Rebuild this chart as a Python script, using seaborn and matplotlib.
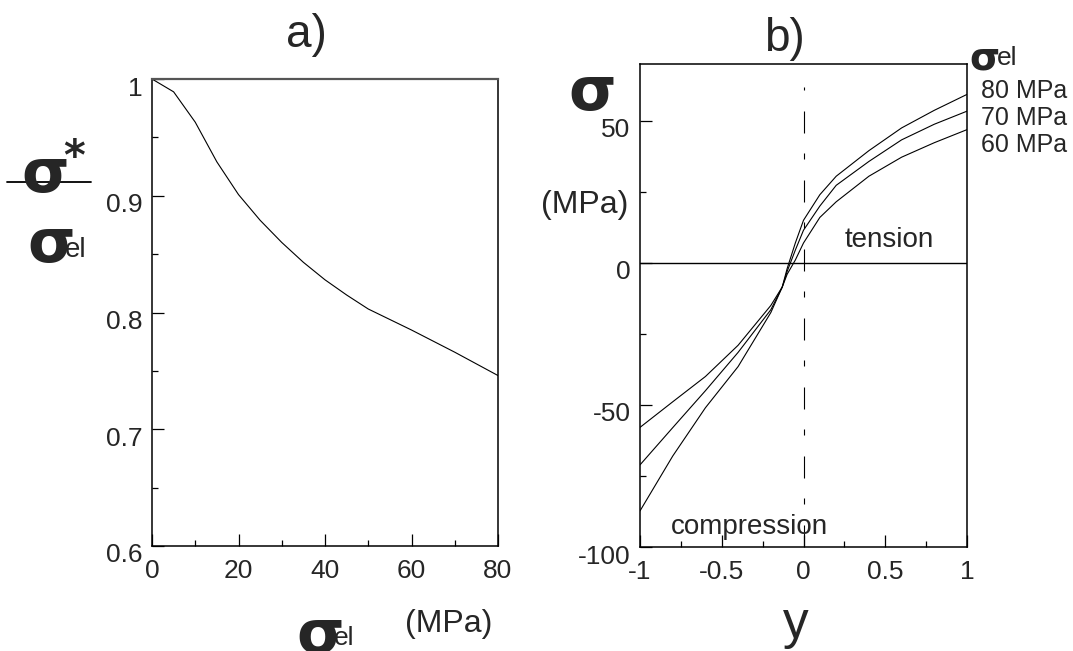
import numpy as np
import pandas as pd
import matplotlib
matplotlib.use("Agg")
import matplotlib.pyplot as plt
import matplotlib.transforms as mtransforms
from matplotlib.lines import Line2D
import seaborn as sns

# ---------------- data ----------------
# panel a): sigma*/sigma_el versus sigma_el (MPa)
sel_a = [0, 5, 10, 15, 20, 25, 30, 35, 40, 45, 50, 60, 70, 80]
ratio_a = [1.0, 0.989, 0.963, 0.929, 0.901, 0.879, 0.860, 0.843, 0.828,
           0.815, 0.803, 0.785, 0.766, 0.746]

# panel b): sigma (MPa) versus y for three sigma_el values
y_b = [-1, -0.8, -0.6, -0.4, -0.2, -0.13, -0.1, -0.05, 0, 0.1, 0.2, 0.4, 0.6, 0.8, 1]
s80 = [-87.3, -68, -51, -36.5, -17.5, -8.5, -2, 7, 15, 24, 30.5, 39.5, 47.5, 53.7, 59.3]
s70 = [-71.1, -58, -45, -31.5, -16.5, -8.5, -3, 4.5, 11.5, 20, 27.3, 35.7, 43.3, 48.8, 53.4]
s60 = [-57.9, -48.9, -40, -29, -15, -8.5, -4, 1, 7, 16, 21.5, 30.5, 37.2, 42.3, 46.9]
series_names = ["80 MPa", "70 MPa", "60 MPa"]

xticks_a = [0, 20, 40, 60, 80]
yticks_a = [0.6, 0.7, 0.8, 0.9, 1.0]
yticklabels_a = ["0.6", "0.7", "0.8", "0.9", "1"]
xticks_b = [-1, -0.5, 0, 0.5, 1]
xticklabels_b = ["-1", "-0.5", "0", "0.5", "1"]
yticks_b = [-100, -50, 0, 50]

# ---------------- style ----------------
sns.set_theme(style="white")
plt.rcParams["font.family"] = ["Liberation Sans", "DejaVu Sans"]
plt.rcParams["axes.linewidth"] = 1.1

W, H = 1073, 651
fig = plt.figure(figsize=(W / 100, H / 100), dpi=100)
fig.patch.set_facecolor("white")

def fx(x):
    return x / W

def fy(y):
    return 1 - y / H

axA = fig.add_axes([fx(152), fy(546), (498 - 152) / W, (546 - 79) / H])
axB = fig.add_axes([fx(640), fy(547), (967 - 640) / W, (547 - 64) / H])

# ---------------- panel a ----------------
sns.lineplot(x=sel_a, y=ratio_a, ax=axA, color="black", linewidth=0.8,
             estimator=None)
axA.set_xlim(0, 80)
axA.set_ylim(0.6, 1.0)
axA.set_xticks(xticks_a)
axA.set_xticklabels([str(v) for v in xticks_a])
axA.set_yticks(yticks_a)
axA.set_yticklabels(yticklabels_a)
axA.set_xticks([10, 30, 50, 70], minor=True)
axA.set_yticks([0.65, 0.75, 0.85, 0.95], minor=True)

# ---------------- panel b ----------------
df = pd.DataFrame({
    "y": y_b * 3,
    "sigma": s80 + s70 + s60,
    "sel": [series_names[0]] * len(y_b) + [series_names[1]] * len(y_b)
           + [series_names[2]] * len(y_b),
})
sns.lineplot(data=df, x="y", y="sigma", hue="sel",
             palette={n: "black" for n in series_names},
             linewidth=0.8, estimator=None, legend=False, ax=axB)
axB.axhline(0, color="black", linewidth=1.0)
axB.axvline(0, ymin=0, ymax=(62 + 100) / 170, color="black", linewidth=0.8,
            linestyle=(0, (19.8, 18.9, 5.4, 18)))
axB.set_xlim(-1, 1)
axB.set_ylim(-100, 70)
axB.set_xticks(xticks_b)
axB.set_xticklabels(xticklabels_b)
axB.set_yticks(yticks_b)
axB.set_yticklabels([str(v) for v in yticks_b])
axB.set_xticks([-0.75, -0.25, 0.25, 0.75], minor=True)
axB.set_yticks([-75, -25, 25], minor=True)

for ax in (axA, axB):
    ax.set_xlabel("")
    ax.set_ylabel("")
    for sp in ax.spines.values():
        sp.set_visible(True)
        sp.set_color("black")
    ax.tick_params(axis="both", which="both", direction="in", top=False,
                   right=False, bottom=True, left=True, color="black",
                   labelsize=19)
    ax.tick_params(axis="both", which="major", length=8.5, width=0.9)
    ax.tick_params(axis="both", which="minor", length=4.5, width=0.9)
    ax.tick_params(axis="y", which="major", pad=6.9)
    ax.tick_params(axis="x", which="major", pad=9.5)
    ax.set_facecolor("white")
    ax.grid(False)

axA.spines["top"].set_color("#555555")
axA.spines["top"].set_linewidth(1.6)

# shift y tick labels down a little, as in the reference
off = mtransforms.ScaledTranslation(0, -7 / 100, fig.dpi_scale_trans)
for ax in (axA, axB):
    for lab in ax.get_yticklabels():
        lab.set_transform(lab.get_transform() + off)

# ---------------- texts ----------------
sig_kw = dict(family=["DejaVu Sans"], fontweight="bold", va="baseline", ha="left")

fig.text(fx(306), fy(47), "a)", fontsize=33, ha="center", va="baseline")
fig.text(fx(784), fy(51), "b)", fontsize=33, ha="center", va="baseline")

# left y label : sigma* / sigma_el
fig.text(fx(21), fy(192), "σ", fontsize=44, **sig_kw)
fig.text(fx(63), fy(170), "*", fontsize=30, family=["DejaVu Sans"],
         fontweight="bold", ha="left", va="baseline")
fig.add_artist(Line2D([fx(7), fx(91)], [fy(181.7), fy(181.7)], color="black",
                      linewidth=1.3, transform=fig.transFigure))
fig.text(fx(27), fy(262), "σ", fontsize=44, **sig_kw)
fig.text(fx(65), fy(257), "el", fontsize=20, ha="left", va="baseline")

# left x label
fig.text(fx(296), fy(653), "σ", fontsize=44, **sig_kw)
fig.text(fx(334), fy(645), "el", fontsize=19, ha="left", va="baseline")
fig.text(fx(405), fy(632), "(MPa)", fontsize=23, ha="left", va="baseline")

# right y label
fig.text(fx(568), fy(110), "σ", fontsize=44, **sig_kw)
fig.text(fx(541), fy(213), "(MPa)", fontsize=23, ha="left", va="baseline")

# right x label
fig.text(fx(796), fy(638), "y", fontsize=37, ha="center", va="baseline")

# series header and labels
fig.text(fx(969), fy(70), "σ", fontsize=28, **sig_kw)
fig.text(fx(997), fy(65), "el", fontsize=19, ha="left", va="baseline")
for name, yb in zip(series_names, [98, 125, 152]):
    fig.text(fx(981), fy(yb), name, fontsize=18, ha="left", va="baseline")

fig.text(fx(845), fy(247), "tension", fontsize=20, ha="left", va="baseline")
fig.text(fx(671), fy(534), "compression", fontsize=20, ha="left", va="baseline")

fig.savefig("out.png", dpi=100, facecolor="white")
